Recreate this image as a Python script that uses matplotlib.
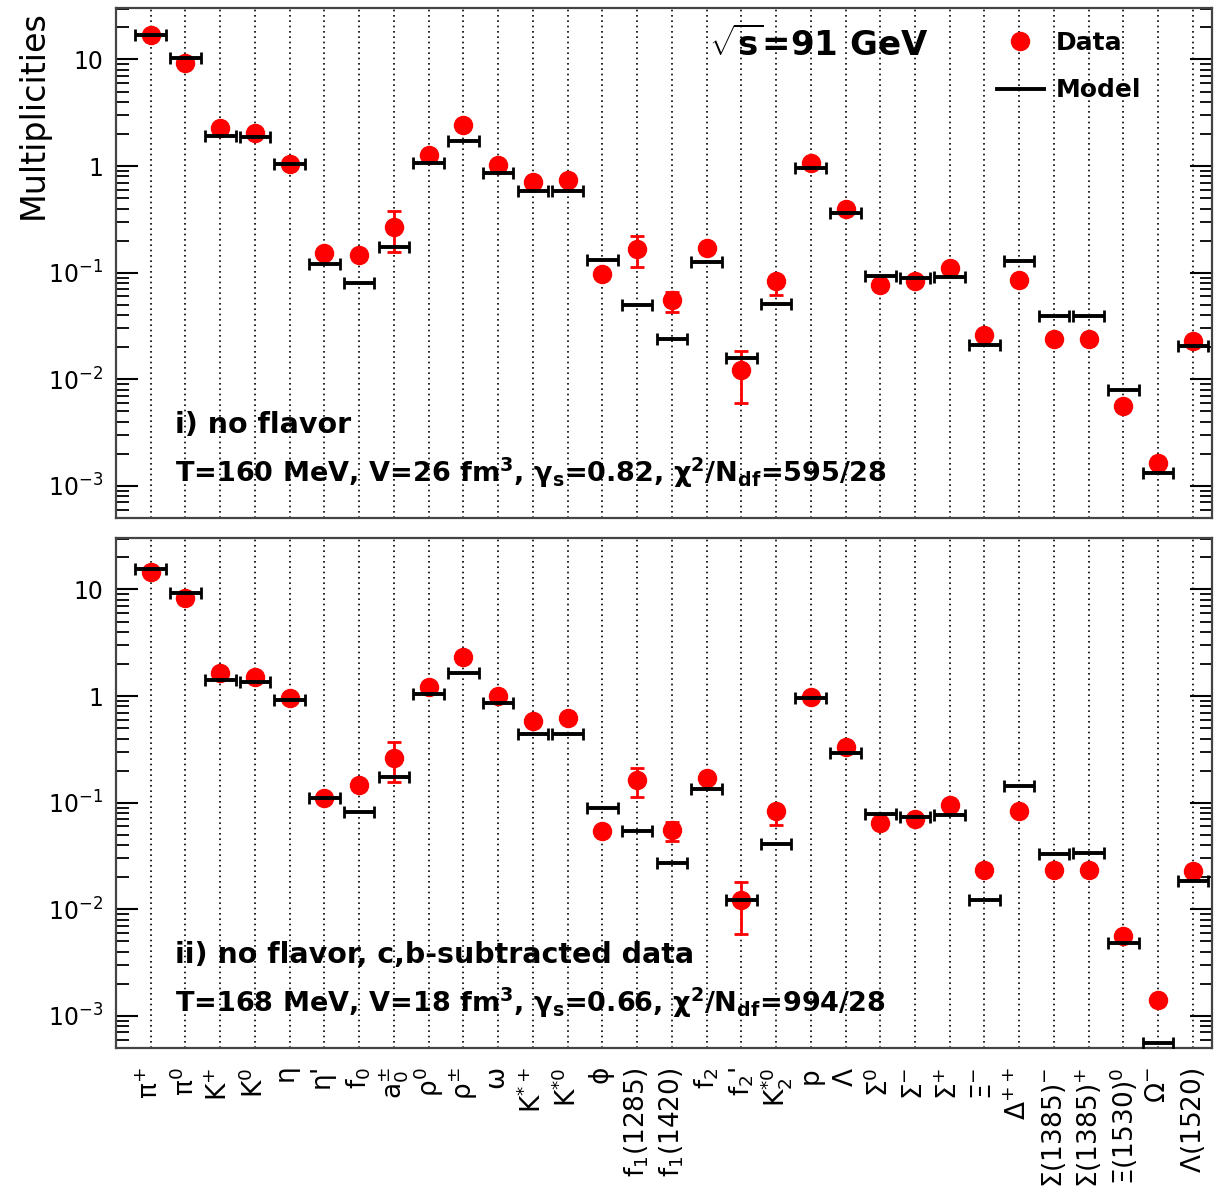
import numpy as np
import matplotlib
matplotlib.use("Agg")
import matplotlib.pyplot as plt
from matplotlib.lines import Line2D
from matplotlib.ticker import FixedLocator, FixedFormatter, LogLocator, NullFormatter

plt.rcParams['font.family'] = ['DejaVu Sans']
plt.rcParams['mathtext.fontset'] = 'custom'
plt.rcParams['mathtext.rm'] = 'DejaVu Sans'
plt.rcParams['mathtext.it'] = 'DejaVu Sans'
plt.rcParams['mathtext.bf'] = 'DejaVu Sans:bold'
plt.rcParams['mathtext.default'] = 'regular'

# particle species (x axis)
particles = [r'$\pi^{+}$', r'$\pi^{0}$', r'K$^{+}$', r'K$^{0}$', r'$\eta$', r"$\eta$'",
             r'f$_{0}$', r'a$_{0}^{\pm}$', r'$\rho^{0}$', r'$\rho^{\pm}$', r'$\omega$',
             r'K$^{*+}$', r'K$^{*0}$', r'$\phi$', r'f$_{1}$(1285)', r'f$_{1}$(1420)',
             r'f$_{2}$', r"f$_{2}$'", r'K$_{2}^{*0}$', 'p', r'$\Lambda$', r'$\Sigma^{0}$',
             r'$\Sigma^{-}$', r'$\Sigma^{+}$', r'$\Xi^{-}$', r'$\Delta^{++}$',
             r'$\Sigma$(1385)$^{-}$', r'$\Sigma$(1385)$^{+}$', r'$\Xi$(1530)$^{0}$',
             r'$\Omega^{-}$', r'$\Lambda$(1520)']

# panel i) no flavor
data_1 = [17.0, 9.3, 2.26, 2.06, 1.04, 0.153, 0.145, 0.271, 1.27, 2.43, 1.03,
          0.716, 0.743, 0.097, 0.166, 0.0557, 0.170, 0.0123, 0.084, 1.06, 0.40,
          0.077, 0.083, 0.110, 0.0262, 0.0857, 0.0239, 0.0239, 0.0056, 0.00164, 0.0227]
err_lo_1 = [0, 0, 0, 0, 0, 0, 0, 0.113, 0, 0, 0, 0, 0, 0, 0.052, 0.0125, 0, 0.0063,
            0.022, 0, 0, 0, 0, 0, 0, 0, 0, 0, 0, 0, 0]
err_hi_1 = [0, 0, 0, 0, 0, 0, 0, 0.11, 0, 0, 0, 0, 0, 0, 0.056, 0.01, 0, 0.0062,
            0.01, 0, 0, 0, 0, 0, 0, 0, 0, 0, 0, 0, 0]
model_1 = [17.0, 10.3, 1.92, 1.88, 1.04, 0.121, 0.080, 0.174, 1.06, 1.73, 0.87,
           0.586, 0.586, 0.132, 0.050, 0.0239, 0.127, 0.0158, 0.0508, 0.955, 0.366,
           0.0935, 0.089, 0.092, 0.0208, 0.130, 0.0389, 0.0394, 0.0080, 0.00132, 0.0207]

# panel ii) no flavor, c,b-subtracted data
data_2 = [14.6, 8.35, 1.66, 1.52, 0.953, 0.110, 0.145, 0.265, 1.22, 2.34, 1.01,
          0.585, 0.628, 0.0537, 0.164, 0.0557, 0.170, 0.0121, 0.083, 0.986, 0.336,
          0.0644, 0.070, 0.0955, 0.0232, 0.084, 0.0236, 0.0232, 0.0056, 0.00141, 0.0227]
err_lo_2 = [0, 0, 0, 0, 0, 0, 0, 0.11, 0, 0, 0, 0, 0, 0, 0.05, 0.0123, 0, 0.0062,
            0.021, 0, 0, 0, 0, 0, 0, 0, 0, 0, 0, 0, 0]
err_hi_2 = [0, 0, 0, 0, 0, 0, 0, 0.109, 0, 0, 0, 0, 0, 0, 0.047, 0.01, 0, 0.006,
            0.01, 0, 0, 0, 0, 0, 0, 0, 0, 0, 0, 0, 0]
model_2 = [15.4, 9.3, 1.42, 1.36, 0.918, 0.110, 0.081, 0.174, 1.04, 1.66, 0.857,
           0.438, 0.438, 0.090, 0.0537, 0.0272, 0.135, 0.0121, 0.041, 0.953, 0.295,
           0.078, 0.074, 0.076, 0.0123, 0.142, 0.0333, 0.0335, 0.00484, 0.00056, 0.0186]

fit_labels = ['i) no flavor', 'ii) no flavor, c,b-subtracted data']
fit_params = [r'T=160 MeV, V=26 fm$^{\mathbf{3}}$, $\mathbf{\gamma_{s}}$=0.82, '
              r'$\mathbf{\chi^{2}}$/N$_{\mathbf{df}}$=595/28',
              r'T=168 MeV, V=18 fm$^{\mathbf{3}}$, $\mathbf{\gamma_{s}}$=0.66, '
              r'$\mathbf{\chi^{2}}$/N$_{\mathbf{df}}$=994/28']

x = np.arange(len(particles))

fig = plt.figure(figsize=(12.14, 11.9), dpi=100)
W, H = 1214, 1190
ax1 = fig.add_axes([116 / W, 1 - 518 / H, 1096 / W, 510 / H])
ax2 = fig.add_axes([116 / W, 1 - 1048 / H, 1096 / W, 510 / H])

yticks = [1e-3, 1e-2, 1e-1, 1, 10]
ylabels = [r'$10^{-3}$', r'$10^{-2}$', r'$10^{-1}$', '1', '10']

panels = [(ax1, data_1, err_lo_1, err_hi_1, model_1),
          (ax2, data_2, err_lo_2, err_hi_2, model_2)]

for k, (ax, d, elo, ehi, m) in enumerate(panels):
    ax.set_yscale('log')
    ax.set_xlim(-1.0, 30.55)
    ax.set_ylim(5.0e-4, 30.4)

    ax.errorbar(x, d, yerr=[elo, ehi], fmt='o', color='red', ms=13,
                elinewidth=2, capsize=5, capthick=2, zorder=3)
    ax.errorbar(x, m, xerr=0.44, fmt='none', ecolor='black',
                elinewidth=2.8, capsize=4, capthick=2, zorder=4)

    ax.set_xticks(x)
    ax.grid(axis='x', color='black', linestyle=(0, (1, 2.2)), linewidth=1.2)
    ax.tick_params(axis='x', length=0)
    ax.yaxis.set_major_locator(FixedLocator(yticks))
    ax.yaxis.set_major_formatter(FixedFormatter(ylabels))
    ax.yaxis.set_minor_locator(LogLocator(base=10, subs=np.arange(2, 10)))
    ax.yaxis.set_minor_formatter(NullFormatter())
    ax.tick_params(axis='y', which='major', direction='in', length=16, width=1.5,
                   right=True, labelsize=17, pad=9)
    ax.tick_params(axis='y', which='minor', direction='in', length=9, width=1.3,
                   right=True)
    for s in ax.spines.values():
        s.set_linewidth(1.6)
        s.set_color('#444444')

    ax.text(0.054, 0.182, fit_labels[k], transform=ax.transAxes, fontsize=20.5,
            fontweight='bold', va='center', ha='left')
    ax.text(0.054, 0.088, fit_params[k], transform=ax.transAxes, fontsize=19.5,
            fontweight='bold', va='center', ha='left')

ax1.set_xticklabels([])
ax2.set_xticklabels(particles, rotation=90, fontsize=19)
ax2.tick_params(axis='x', pad=14)

ax1.text(0.541, 0.927, r'$\mathbf{\sqrt{s}}$=91 GeV', transform=ax1.transAxes,
         fontsize=24.5, fontweight='bold', va='center', ha='left')

handles = [Line2D([], [], marker='o', color='red', ls='none', ms=13),
           Line2D([], [], color='black', lw=2.8)]
ax1.legend(handles, ['Data', 'Model'], loc='upper left', bbox_to_anchor=(0.783, 1.0),
           frameon=False, prop={'weight': 'bold', 'size': 18}, handlelength=1.9,
           labelspacing=0.95, handletextpad=0.45)

fig.text(0.027, 1 - 10 / H, 'Multiplicities', rotation=90, fontsize=24,
         va='top', ha='center')

fig.savefig('out.png', dpi=100)
